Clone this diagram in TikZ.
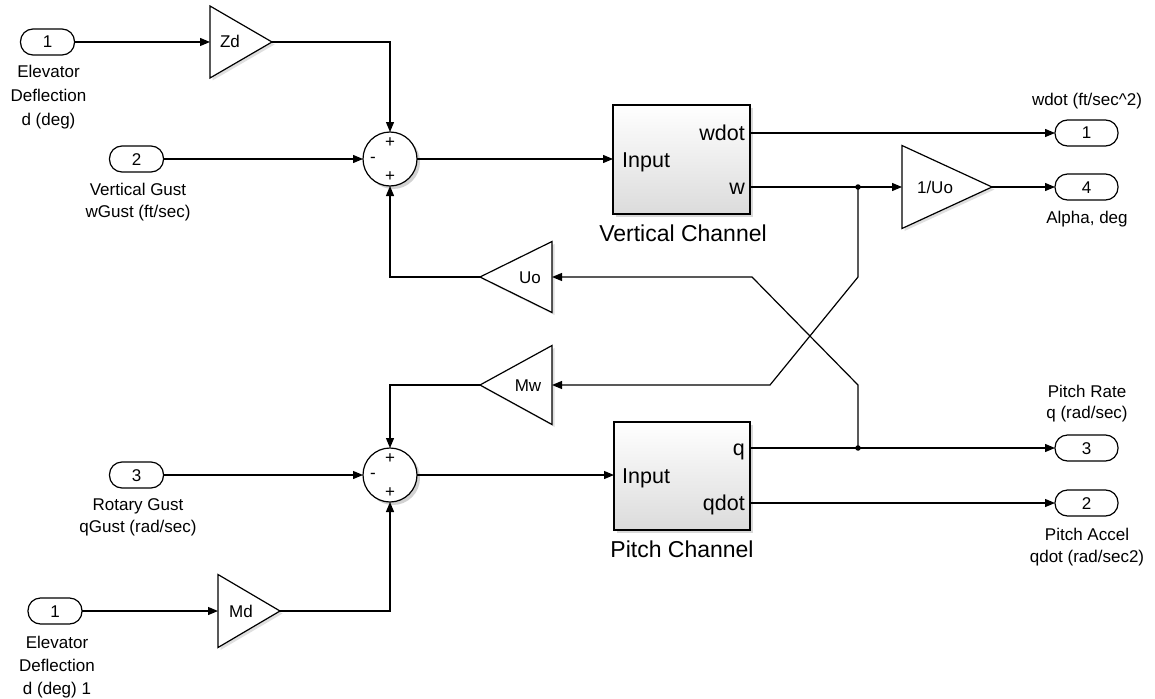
\documentclass[tikz,border=0pt]{standalone}
\usepackage{fontspec}
\setmainfont{Liberation Sans}
\usetikzlibrary{arrows.meta,shadows}
\begin{document}
\begin{tikzpicture}[x=1pt,y=-1pt,
  conn/.style={line width=1.2pt,-{Triangle[length=10pt,width=8pt]}},
  port/.style={draw,line width=1.2pt,rounded corners=12.5pt,minimum height=26pt,inner sep=0pt,outer sep=0pt,fill=white,font=\fontsize{17}{17}\selectfont,text height=12pt,text depth=0pt},
  inport/.style={port,minimum width=54pt},
  outport/.style={port,minimum width=63pt},
  gainbb/.style={draw=none,inner sep=0pt,outer sep=0pt},
  gainshape/.style={draw,line width=1.2pt,fill=white,drop shadow={shadow xshift=2.5pt,shadow yshift=-2.5pt,opacity=0.25,fill=gray}},
  lbl/.style={font=\fontsize{17}{17}\selectfont,inner sep=0pt,text height=12pt,text depth=0pt},
  mlbl/.style={inner sep=0pt,align=center,anchor=north},
  sumc/.style={circle,draw,line width=1.2pt,fill=white,minimum size=54pt,inner sep=0pt,outer sep=0pt,drop shadow={shadow xshift=3pt,shadow yshift=-3pt,opacity=0.35,fill=gray}},
  sgn/.style={font=\fontsize{17}{17}\selectfont,inner sep=0pt},
  sub/.style={draw,line width=1.2pt,inner sep=0pt,outer sep=0pt,top color=white,bottom color=black!14,drop shadow={shadow xshift=3pt,shadow yshift=-3pt,opacity=0.3,fill=gray}},
  blk/.style={font=\fontsize{21.5}{21.5}\selectfont,inner sep=0pt,text height=15.5pt,text depth=0pt},
  blkname/.style={font=\fontsize{23}{23}\selectfont,inner sep=0pt,text height=16.5pt,text depth=0pt},
  dot/.style={circle,fill=black,inner sep=0pt,minimum size=5.5pt}
]
\useasboundingbox[fill=white] (0,0) rectangle (1155,698);

% ---------- inports ----------
\node[inport] (in1a) at (47.5,42) {1};
\node[mlbl,font=\fontsize{17}{24}\selectfont] (in1alab) at (48.5,65) {Elevator\\Deflection\\d (deg)};
\node[inport] (in2) at (136.5,159) {2};
\node[mlbl,font=\fontsize{17}{22}\selectfont] (in2lab) at (138,183) {Vertical Gust\\wGust (ft/sec)};
\node[inport] (in3) at (136.5,475) {3};
\node[mlbl,font=\fontsize{17}{22}\selectfont] (in3lab) at (138,498) {Rotary Gust\\qGust (rad/sec)};
\node[inport] (in1b) at (55,611) {1};
\node[mlbl,font=\fontsize{17}{23}\selectfont] (in1blab) at (57,636) {Elevator\\Deflection\\d (deg) 1};

% ---------- outports ----------
\node[outport] (out1) at (1086.5,133) {1};
\node[lbl] (out1lab) at (1087,100) {wdot (ft/sec\textasciicircum 2)};
\node[outport] (out4) at (1086.5,187) {4};
\node[lbl] (out4lab) at (1087,217) {Alpha, deg};
\node[outport] (out3) at (1086.5,448) {3};
\node[mlbl,font=\fontsize{17}{21}\selectfont] (out3lab) at (1087,385) {Pitch Rate\\q (rad/sec)};
\node[outport] (out2) at (1086.5,503) {2};
\node[mlbl,font=\fontsize{17}{22}\selectfont] (out2lab) at (1087,528) {Pitch Accel\\qdot (rad/sec2)};

% ---------- gains ----------
\node[gainbb,minimum width=62pt,minimum height=72pt] (zd) at (241,42) {};
\filldraw[gainshape] (zd.north west) -- (zd.east) -- (zd.south west) -- cycle;
\node[lbl] (zdlab) at (230,42) {Zd};

\node[gainbb,minimum width=62pt,minimum height=73pt] (md) at (249,611) {};
\filldraw[gainshape] (md.north west) -- (md.east) -- (md.south west) -- cycle;
\node[lbl] (mdlab) at (241,611) {Md};

\node[gainbb,minimum width=90pt,minimum height=83pt] (iuo) at (947,187) {};
\filldraw[gainshape] (iuo.north west) -- (iuo.east) -- (iuo.south west) -- cycle;
\node[lbl] (iuolab) at (935,187) {1/Uo};

\node[gainbb,minimum width=72pt,minimum height=71pt] (uo) at (516,277) {};
\filldraw[gainshape] (uo.north east) -- (uo.west) -- (uo.south east) -- cycle;
\node[lbl] (uolab) at (530,277) {Uo};

\node[gainbb,minimum width=72pt,minimum height=79pt] (mw) at (516,385) {};
\filldraw[gainshape] (mw.north east) -- (mw.west) -- (mw.south east) -- cycle;
\node[lbl] (mwlab) at (528,385) {Mw};

% ---------- sums ----------
\node[sumc] (s1) at (390,159) {};
\node[sgn] at (390,142.5) {+};
\node[sgn] at (373,159.5) {-};
\node[sgn] at (390,177) {+};
\node[sumc] (s2) at (390,475) {};
\node[sgn] at (390,458.5) {+};
\node[sgn] at (373,475.5) {-};
\node[sgn] at (390,493) {+};

% ---------- subsystems ----------
\node[sub,minimum width=137pt,minimum height=109pt] (vc) at (681.5,159.5) {};
\node[blk,anchor=west] (vcin) at (622,159.5) {Input};
\node[blk,anchor=east] (vcwd) at (745,133) {wdot};
\node[blk,anchor=east] (vcw) at (745,187) {w};
\node[blkname] (vclab) at (683,233) {Vertical Channel};

\node[sub,minimum width=136pt,minimum height=108pt] (pc) at (682,476) {};
\node[blk,anchor=west] (pcin) at (622,476) {Input};
\node[blk,anchor=east] (pcq) at (745,448) {q};
\node[blk,anchor=east] (pcqd) at (745,503) {qdot};
\node[blkname] (pclab) at (682,549) {Pitch Channel};

% ---------- connectors ----------
\draw[conn] (in1a.east) -- (zd.west);
\draw[conn] (zd.east) -| (s1.north);
\draw[conn] (in2.east) -- (s1.west);
\draw[conn] (uo.west) -| (s1.south);
\draw[conn] (s1.east) -- (s1.east -| vc.west);
\draw[conn] (out1.west -| vc.east) -- (out1.west);
\draw[conn] (iuo.west -| vc.east) -- (iuo.west);
\draw[conn] (iuo.east) -- (out4.west);

\node[dot] (bw) at (858,187) {};
\coordinate (w1) at (858,277);
\coordinate (w2) at (770,385);
\draw[conn] (bw.center) -- (w1) -- (w2) -- (mw.east);

\draw[conn] (out3.west -| pc.east) -- (out3.west);
\node[dot] (bq) at (858,448) {};
\coordinate (q1) at (858,385);
\coordinate (q2) at (752,277);
\draw[conn] (bq.center) -- (q1) -- (q2) -- (uo.east);
\draw[conn] (out2.west -| pc.east) -- (out2.west);

\draw[conn] (in3.east) -- (s2.west);
\draw[conn] (mw.west) -| (s2.north);
\draw[conn] (md.east) -| (s2.south);
\draw[conn] (s2.east) -- (s2.east -| pc.west);
\draw[conn] (in1b.east) -- (md.west);
\end{tikzpicture}
\end{document}
